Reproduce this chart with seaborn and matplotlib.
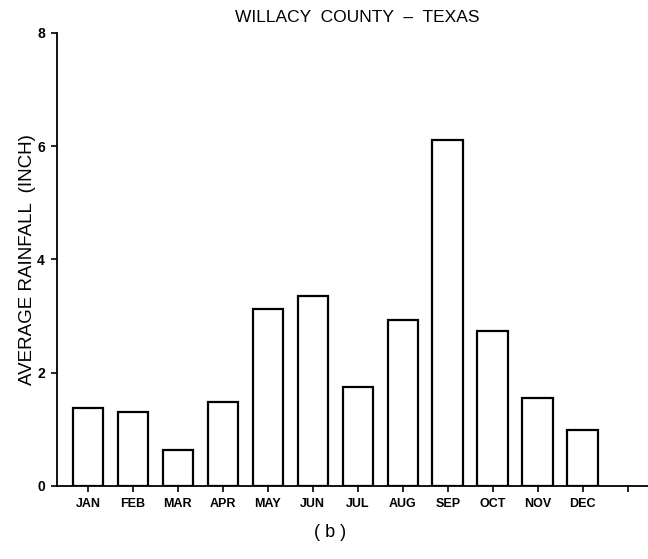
import numpy as np
import pandas as pd
import seaborn as sns
import matplotlib
matplotlib.use("Agg")
import matplotlib.pyplot as plt

# Monthly average rainfall
months = ["JAN", "FEB", "MAR", "APR", "MAY", "JUN",
          "JUL", "AUG", "SEP", "OCT", "NOV", "DEC"]
rainfall = [1.38, 1.30, 0.64, 1.48, 3.13, 3.36,
            1.75, 2.93, 6.11, 2.74, 1.56, 0.99]
y_ticks = [0, 2, 4, 6, 8]

sns.set_theme(style="white")
plt.rcParams['font.family'] = ['Liberation Sans', 'DejaVu Sans']

df = pd.DataFrame({"month": months, "rain": rainfall})

fig = plt.figure(figsize=(6.48, 5.59), dpi=100)
ax = fig.add_axes([0.0884, 0.1306, 0.9116, 0.8104])

sns.barplot(data=df, x="month", y="rain", order=months, color="white",
            edgecolor="black", linewidth=1.6, width=0.68, ax=ax)

# axes look
ax.set_xlim(-0.68, 12.45)
ax.set_ylim(0, 8)
sns.despine(ax=ax, top=True, right=True)
for side in ["left", "bottom"]:
    ax.spines[side].set_color("black")
    ax.spines[side].set_linewidth(1.3)

ax.set_xticks(range(13))
ax.set_xticklabels(months + [""], fontsize=9, fontweight="bold")
ax.set_yticks(y_ticks)
ax.set_yticklabels([str(t) for t in y_ticks], fontsize=10, fontweight="bold")
ax.tick_params(axis="both", which="both", direction="out", length=4,
               width=1.2, color="black", labelcolor="black", pad=5,
               bottom=True, left=True)

ax.set_xlabel("")
ax.set_ylabel("AVERAGE RAINFALL  (INCH)", fontsize=13.5, color="black", labelpad=1)

fig.text(0.551, 0.968, "WILLACY  COUNTY  \u2013  TEXAS", ha="center", va="center",
         fontsize=12.5, color="black")
fig.text(0.509, 0.048, "( b )", ha="center", va="center",
         fontsize=13, color="black")

fig.savefig("out.png", dpi=100)
